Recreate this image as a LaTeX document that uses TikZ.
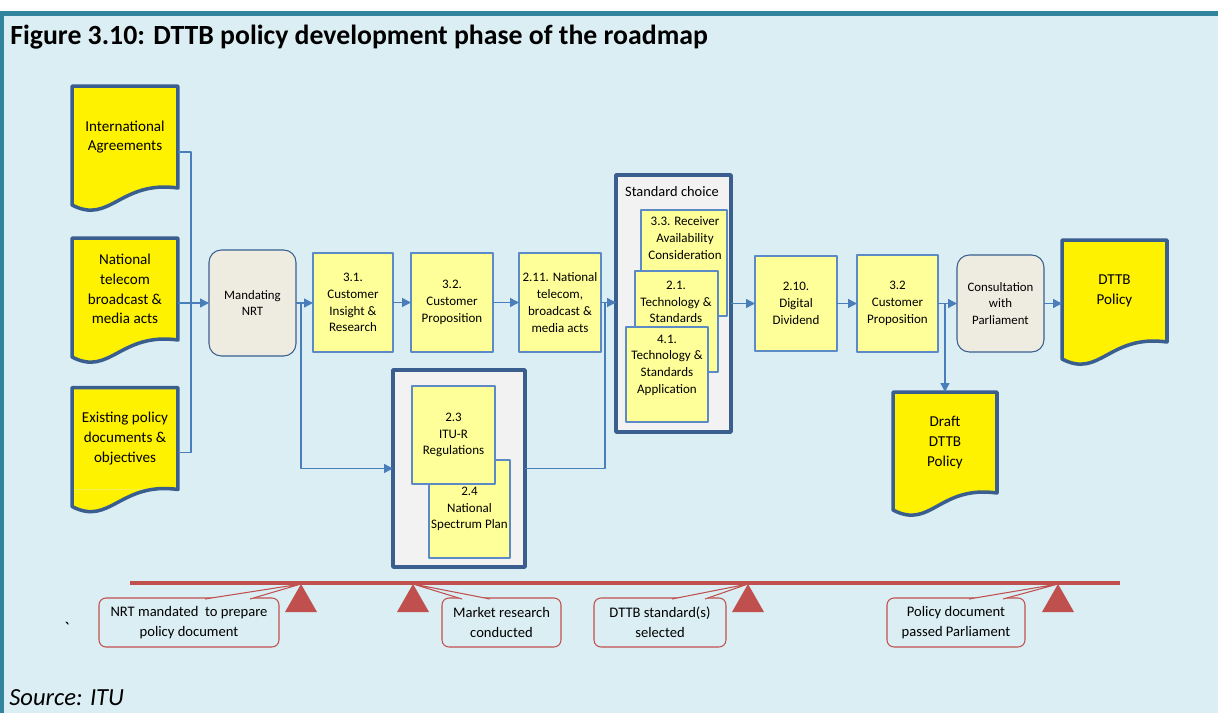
\documentclass[tikz,border=0pt]{standalone}
\usepackage{fontspec}
\setmainfont{Carlito}
\usetikzlibrary{arrows.meta,calc}
\definecolor{bgblue}{HTML}{DBEEF4}
\definecolor{frameteal}{HTML}{31849B}
\definecolor{docblue}{HTML}{3A5F8F}
\definecolor{boxblue}{HTML}{5B8AC6}
\definecolor{linkblue}{HTML}{4A7EBB}
\definecolor{paleyel}{HTML}{FFFF99}
\definecolor{greige}{HTML}{EEECE1}
\definecolor{grpgrey}{HTML}{F2F2F2}
\definecolor{mred}{HTML}{C0504D}
\begin{document}
\begin{tikzpicture}[x=0.02cm,y=-0.02cm,line join=round,
    doc/.style={fill=yellow,inner sep=0pt,outer sep=0pt,minimum width=2.12cm,minimum height=2.04cm,align=center,font=\fontsize{8.6}{11.3}\selectfont},
    sbox/.style={fill=paleyel,draw=boxblue,line width=0.7pt,inner sep=0pt,outer sep=0pt,align=center,font=\fontsize{7.4}{9.5}\selectfont},
    stext/.style={inner sep=0pt,align=center,font=\fontsize{7.4}{9.5}\selectfont},
    proc/.style={fill=greige,draw=docblue,line width=0.6pt,rounded corners=7pt,inner sep=0pt,outer sep=0pt,align=center,font=\fontsize{7.3}{9.5}\selectfont},
    grp/.style={fill=grpgrey,draw=docblue,line width=2.2pt,inner sep=0pt,outer sep=0pt},
    conn/.style={draw=linkblue,line width=0.75pt},
    arr/.style={conn,-{Triangle[length=5pt,width=5pt]}},
    callout/.style={fill=bgblue,draw=mred,line width=0.6pt,rounded corners=4pt,inner sep=0pt,outer sep=0pt,minimum height=0.98cm,align=center,font=\fontsize{8.3}{11.3}\selectfont},
    wedge/.style={fill=bgblue,draw=mred,line width=0.6pt}]
  \def\docwave#1{%
    \fill[yellow] (#1.south east) .. controls ($(#1.south east)+(-58,-8)$) and ($(#1.south west)+(38,37)$) .. ($(#1.south west)+(0,17)$) -- (#1.south west) -- cycle;
    \draw[docblue,line width=2pt] ($(#1.south west)+(0,17)$) -- (#1.north west) -- (#1.north east) -- (#1.south east)
      .. controls ($(#1.south east)+(-58,-8)$) and ($(#1.south west)+(38,37)$) .. ($(#1.south west)+(0,17)$) -- cycle;}

  % frame
  \useasboundingbox (0,0) rectangle (1218,713);
  \fill[bgblue] (0,16) rectangle (1218,713);
  \fill[frameteal] (0,11) rectangle (1218,16);
  \fill[frameteal] (0,11) rectangle (4,713);
  \node[anchor=west,inner sep=0pt,font=\fontsize{15.8}{19}\selectfont\bfseries] (title) at (10,37) {Figure 3.10: DTTB policy development phase of the roadmap};

  % input documents
  \node[doc] (IA) at (125,137) {International\\Agreements};
  \docwave{IA}
  \node[doc] (NT) at (125,289) {National\\telecom\\broadcast \&\\media acts};
  \docwave{NT}
  \node[doc] (EP) at (125,438.5) {Existing policy\\documents \&\\objectives};
  \docwave{EP}

  % main chain
  \node[proc,minimum width=1.74cm,minimum height=2.12cm] (NRT) at (252.5,303) {Mandating\\NRT};
  \node[sbox,minimum width=1.6cm,minimum height=1.98cm] (CIR) at (353,302.5) {3.1.\\Customer\\Insight \&\\Research};
  \node[sbox,minimum width=1.64cm,minimum height=1.98cm] (CP) at (452,302.5) {3.2.\\Customer\\Proposition};
  \node[sbox,minimum width=1.64cm,minimum height=1.98cm] (NTB) at (560,302.5) {2.11. National\\telecom,\\broadcast \&\\media acts};

  % ITU-R group
  \node[grp,minimum width=2.64cm,minimum height=3.94cm] (G1) at (459,468.5) {};
  \node[sbox,minimum width=1.62cm,minimum height=1.96cm] (B24) at (469.5,509) {2.4\\National\\Spectrum Plan};
  \node[sbox,minimum width=1.66cm,minimum height=1.96cm] (B23) at (453.5,435) {2.3\\ITU-R\\Regulations};

  % standard choice group
  \node[grp,minimum width=2.3cm,minimum height=5.14cm] (SC) at (673.5,303.5) {};
  \node[stext,font=\fontsize{8.2}{10}\selectfont] (SCt) at (672,192) {Standard choice};
  \node[sbox,minimum width=1.72cm,minimum height=2.12cm] (B33) at (684,263) {};
  \node[stext] (B33t) at (685,238) {3.3. Receiver\\Availability\\Consideration};
  \node[sbox,minimum width=1.66cm,minimum height=2.02cm] (B21) at (676.5,321.5) {};
  \node[stext] (B21t) at (676,302) {2.1.\\Technology \&\\Standards};
  \node[sbox,minimum width=1.64cm,minimum height=1.9cm] (B41) at (667,374.5) {};
  \node[stext] (B41t) at (667,365) {4.1.\\Technology \&\\Standards\\Application};

  \node[sbox,minimum width=1.64cm,minimum height=1.9cm] (DD) at (796,303.5) {2.10.\\Digital\\Dividend};
  \node[sbox,minimum width=1.62cm,minimum height=1.94cm] (CP2) at (897.5,303.5) {3.2\\Customer\\Proposition};
  \node[proc,minimum width=1.74cm,minimum height=1.94cm] (CON) at (1000.5,303.5) {Consultation\\with\\Parliament};

  % output documents
  \node[doc,minimum width=2.1cm] (DP) at (1114.5,291) {DTTB\\Policy};
  \docwave{DP}
  \node[doc,minimum width=2.08cm,minimum height=2.02cm] (DR) at (945,442.5) {Draft\\DTTB\\Policy};
  \docwave{DR}

  % connectors
  \coordinate (J) at (191,303);
  \draw[conn] ($(IA.east)+(0,15)$) -| (J);
  \draw[conn] ($(EP.east)+(0,14)$) -| (J);
  \draw[arr] (NT.east |- NRT.west) -- (NRT.west);
  \draw[arr] (NRT.east) -- (NRT.east -| CIR.west);
  \coordinate (K) at (301,303);
  \draw[arr] (K) |- (G1.west);
  \draw[arr] (CIR.east) -- (CP.west);
  \draw[arr] (CP.east) -- (NTB.west);
  \draw[arr] (NTB.east) -- (NTB.east -| SC.west);
  \coordinate (L) at (605,302.5);
  \draw[conn] (G1.east) -| (L);
  \draw[arr] (SC.east |- DD.west) -- (DD.west);
  \draw[arr] (DD.east) -- (CP2.west);
  \draw[arr] (CP2.east) -- (CON.west);
  \draw[arr] (CON.east) -- (CON.east -| DP.west);
  \coordinate (M) at (945,303.5);
  \draw[arr] (M) -- (DR.north);

  % milestones
  \draw[mred,line width=2.3pt] (130,583) -- (1120,583);
  \coordinate (m1) at (301,584);
  \coordinate (m2) at (413,584);
  \coordinate (m3) at (748,584);
  \coordinate (m4) at (1058,584);
  \foreach \m in {m1,m2,m3,m4}
    \fill[mred] (\m) -- ++(-16,28) -- ++(32,0) -- cycle;
  \node[callout,minimum width=3.6cm] (c1) at (189,622.5) {NRT mandated\ \ to prepare\\policy document};
  \node[callout,minimum width=2.38cm] (c2) at (501.5,622.5) {Market research\\conducted};
  \node[callout,minimum width=2.64cm] (c3) at (660,622.5) {DTTB standard(s)\\selected};
  \node[callout,minimum width=2.76cm] (c4) at (956,622.5) {Policy document\\passed Parliament};
  \filldraw[wedge] ($(c1.north west)+(106,1)$) -- (m1) -- ($(c1.north west)+(151,1)$);
  \filldraw[wedge] ($(c2.north west)+(20,1)$) -- (m2) -- ($(c2.north west)+(48,1)$);
  \filldraw[wedge] ($(c3.north west)+(78,1)$) -- (m3) -- ($(c3.north west)+(111,1)$);
  \filldraw[wedge] ($(c4.north west)+(82,1)$) -- (m4) -- ($(c4.north west)+(116,1)$);

  \node[inner sep=0pt,font=\fontsize{11}{13}\selectfont] (tick) at (67,629) {\textasciigrave};
  \node[anchor=west,inner sep=0pt,font=\fontsize{14}{17}\selectfont\itshape] (src) at (9,698) {Source: ITU};
\end{tikzpicture}
\end{document}
